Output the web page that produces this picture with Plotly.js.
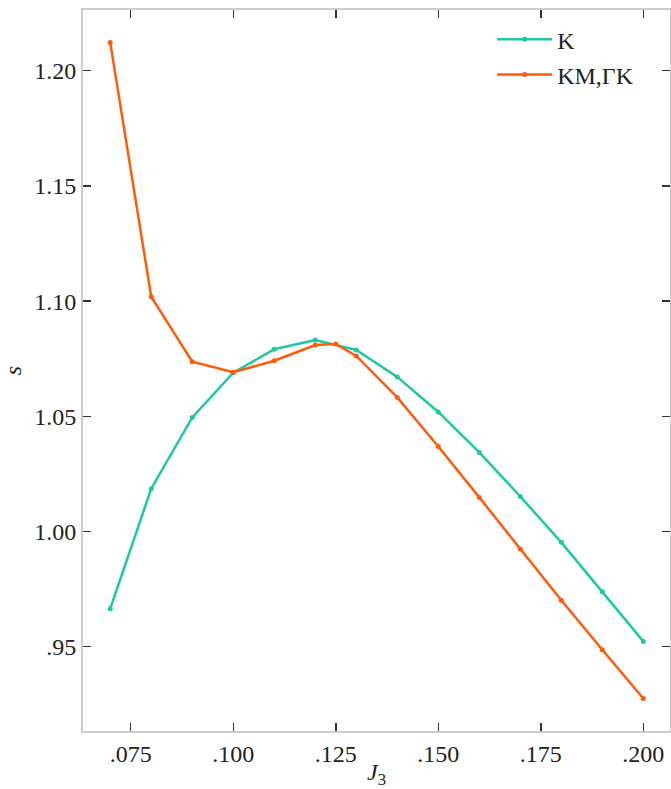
<!DOCTYPE html>
<html>
<head>
<meta charset="utf-8">
<script src="https://cdn.plot.ly/plotly-3.0.1.min.js"></script>
<style>
  html, body { margin: 0; padding: 0; background: #fff; }
  #chart { width: 671px; height: 789px; }
</style>
</head>
<body>
<div id="chart"></div>
<script>
// Data
const xK = [0.07, 0.08, 0.09, 0.10, 0.11, 0.12, 0.13, 0.14, 0.15, 0.16, 0.17, 0.18, 0.19, 0.20];
const sK = [0.9665, 1.0186, 1.0495, 1.0689, 1.0791, 1.0831, 1.0788, 1.0671, 1.0519, 1.0343, 1.0152, 0.9953, 0.9738, 0.9523];

const xKM = [0.07, 0.08, 0.09, 0.10, 0.11, 0.12, 0.125, 0.13, 0.14, 0.15, 0.16, 0.17, 0.18, 0.19, 0.20];
const sKM = [1.2122, 1.1019, 1.0737, 1.0691, 1.0741, 1.0809, 1.0814, 1.0762, 1.0582, 1.0369, 1.0148, 0.9924, 0.9702, 0.9487, 0.9275];

const seriesNames = ['K', 'KM,ΓK'];
const xTickVals = [0.075, 0.100, 0.125, 0.150, 0.175, 0.200];
const xTickText = ['.075', '.100', '.125', '.150', '.175', '.200'];
const yTickVals = [0.95, 1.00, 1.05, 1.10, 1.15, 1.20];
const yTickText = ['.95', '1.00', '1.05', '1.10', '1.15', '1.20'];

const green = '#1cc9a1';
const orange = '#ff5b0a';
const fontFam = 'Times New Roman, Liberation Serif, serif';

const traces = [
  {
    x: xK, y: sK, name: seriesNames[0], legendgroup: 'a',
    type: 'scatter', mode: 'lines+markers',
    line: { color: green, width: 2.5 },
    marker: { color: green, size: 5 }
  },
  {
    x: xKM, y: sKM, name: seriesNames[1], legendgroup: 'b',
    type: 'scatter', mode: 'lines+markers',
    line: { color: orange, width: 2.5 },
    marker: { color: orange, size: 5 }
  }
];

function axisBase() {
  return {
    showgrid: false,
    zeroline: false,
    showline: true,
    linecolor: '#cccccc',
    linewidth: 2,
    mirror: 'ticks',
    ticks: 'inside',
    ticklen: 8,
    tickwidth: 1.5,
    tickcolor: '#333333',
    tickfont: { family: fontFam, size: 24, color: '#222222' }
  };
}

const layout = {
  width: 671,
  height: 789,
  margin: { l: 83, r: 1, t: 10, b: 58 },
  paper_bgcolor: '#ffffff',
  plot_bgcolor: '#ffffff',
  font: { family: fontFam, size: 24, color: '#222222' },
  showlegend: true,
  legend: {
    x: 0.697, y: 0.99, xanchor: 'left', yanchor: 'top',
    bgcolor: 'rgba(0,0,0,0)',
    tracegroupgap: 1,
    itemwidth: 55,
    font: { family: fontFam, size: 24, color: '#222222' }
  },
  xaxis: Object.assign(axisBase(), {
    range: [0.06336, 0.20651],
    tickmode: 'array',
    tickvals: xTickVals,
    ticktext: xTickText,
    title: { text: '<i>J</i><sub>3</sub>', font: { family: fontFam, size: 24, color: '#222222' }, standoff: 6 }
  }),
  yaxis: Object.assign(axisBase(), {
    range: [0.91341, 1.22635],
    tickmode: 'array',
    tickvals: yTickVals,
    ticktext: yTickText,
    title: { text: '<i>s</i>', font: { family: fontFam, size: 24, color: '#222222' }, standoff: 12 }
  })
};

Plotly.newPlot('chart', traces, layout, { displayModeBar: false, staticPlot: true });
</script>
</body>
</html>
